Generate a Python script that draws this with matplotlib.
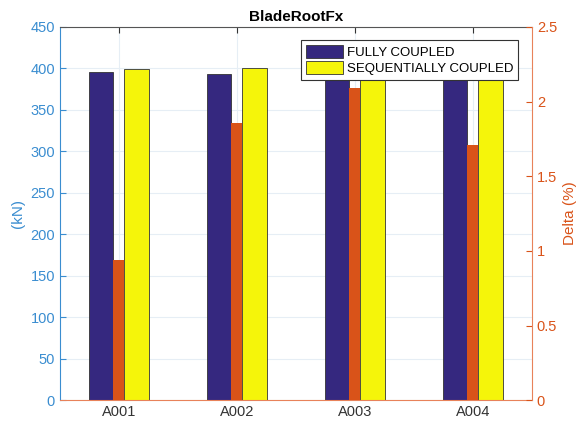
import numpy as np
import matplotlib
matplotlib.use("Agg")
import matplotlib.pyplot as plt

# Data
cases = ["A001", "A002", "A003", "A004"]
fully_coupled = [395.5, 393.0, 395.0, 395.0]
seq_coupled = [399.3, 400.5, 399.0, 398.5]
delta_pct = [0.94, 1.86, 2.09, 1.71]

navy = "#35287F"
yellow = "#F5F50A"
orange = "#D95319"
left_col = "#3A8DD0"
right_col = "#E8825A"

plt.rcParams["font.family"] = ["Liberation Sans", "DejaVu Sans"]

fig = plt.figure(figsize=(5.82, 4.28), dpi=100)
ax = fig.add_axes([0.103, 0.065, 0.811, 0.872])
x = np.arange(1, len(cases) + 1)

w = 0.21
b1 = ax.bar(x - 0.152, fully_coupled, w, color=navy, edgecolor="#333333", linewidth=0.6,
            label="FULLY COUPLED", zorder=2)
b2 = ax.bar(x + 0.152, seq_coupled, w, color=yellow, edgecolor="#333333", linewidth=0.6,
            label="SEQUENTIALLY COUPLED", zorder=2)

ax.set_xlim(0.5, 4.5)
ax.set_ylim(0, 450)
ax.set_yticks(np.arange(0, 451, 50))
ax.set_xticks(x)
ax.set_xticklabels(cases)
ax.set_ylabel("(kN)", color=left_col, fontsize=11)
ax.tick_params(axis="y", colors=left_col, direction="in", labelsize=10.5, length=4)
ax.tick_params(axis="x", colors="#333333", direction="in", labelsize=10.5, length=4, top=True)
ax.grid(True, color="#E6EEF5", linewidth=0.8, zorder=0)
ax.set_axisbelow(True)
ax.spines["left"].set_color(left_col)
ax.spines["top"].set_color("#555555")
ax.spines["bottom"].set_color(right_col)
ax.spines["right"].set_visible(False)
ax.set_title("BladeRootFx", fontweight="bold", fontsize=11, pad=4)

# right axis: delta between the two models
ax2 = ax.twinx()
ax2.bar(x, delta_pct, 0.093, color=orange, zorder=3)
ax2.set_ylim(0, 2.5)
ax2.set_yticks(np.arange(0, 2.51, 0.5))
ax2.set_yticklabels(["0", "0.5", "1", "1.5", "2", "2.5"])
ax2.set_ylabel("Delta (%)", color=orange, fontsize=11)
ax2.tick_params(axis="y", colors=orange, direction="in", labelsize=10.5, length=4)
for s in ["left", "top", "bottom"]:
    ax2.spines[s].set_visible(False)
ax2.spines["right"].set_color(right_col)

# legend on the top axis so it covers the bars
leg = ax2.legend([b1, b2], ["FULLY COUPLED", "SEQUENTIALLY COUPLED"],
                 loc="upper right", bbox_to_anchor=(0.97, 0.965), borderaxespad=0,
                 fontsize=9.5, frameon=True, fancybox=False, edgecolor="#333333",
                 framealpha=1, handlelength=2.8, handleheight=1.15, borderpad=0.35,
                 labelspacing=0.2, handletextpad=0.3)
leg.get_frame().set_linewidth(0.8)
leg.set_zorder(10)

fig.savefig("out.png", dpi=100)
